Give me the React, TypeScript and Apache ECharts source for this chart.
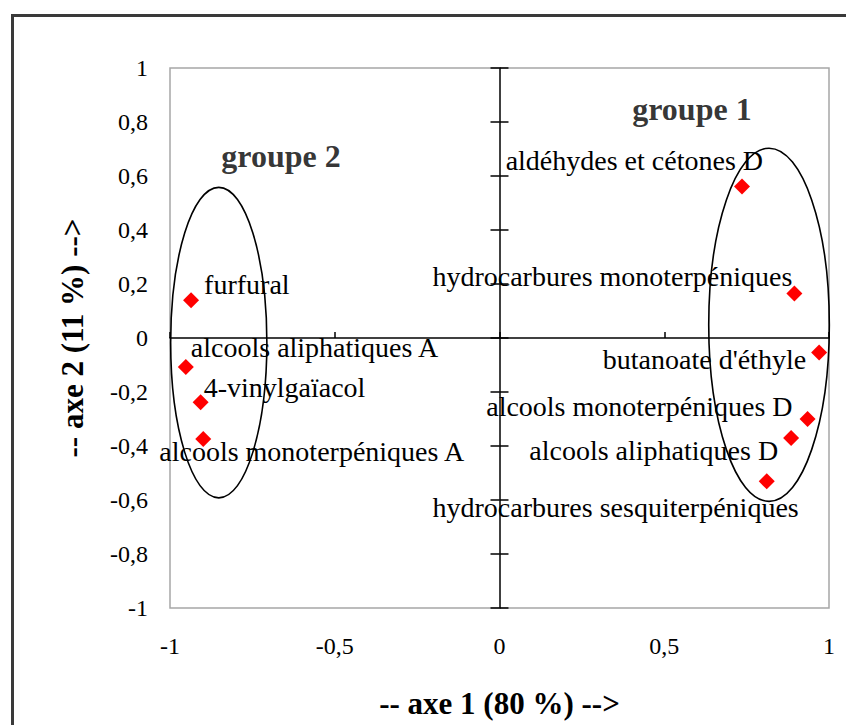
import React, { useEffect, useRef } from 'react';
import * as echarts from 'echarts';

// ---- data ----
const pointNames = [
  'furfural',
  'alcools aliphatiques A',
  '4-vinylgaïacol',
  'alcools monoterpéniques A',
  'aldéhydes et cétones D',
  'hydrocarbures monoterpéniques',
  "butanoate d'éthyle",
  'alcools monoterpéniques D',
  'alcools aliphatiques D',
  'hydrocarbures sesquiterpéniques',
];
const axis1Values = [-0.936, -0.952, -0.907, -0.899, 0.736, 0.895, 0.97, 0.935, 0.885, 0.811];
const axis2Values = [0.14, -0.107, -0.238, -0.374, 0.561, 0.165, -0.054, -0.3, -0.37, -0.531];

const groupNames = ['groupe 1', 'groupe 2'];
const groupLabelX = [0.584, -0.663];
const groupLabelY = [0.848, 0.673];
const ellipseCenterX = [0.818, -0.852];
const ellipseCenterY = [0.049, -0.017];
const ellipseRadiusX = [0.183, 0.146];
const ellipseRadiusY = [0.654, 0.575];

const xTickLabels = ['-1', '-0,5', '0', '0,5', '1'];
const yTickLabels = ['-1', '-0,8', '-0,6', '-0,4', '-0,2', '0', '0,2', '0,4', '0,6', '0,8', '1'];

const xTitle = '-- axe 1 (80 %) -->';
const yTitle = '-- axe 2 (11 %) -->';

// label placement (pixels, relative to the marker centre)
const labelLayout: { align: 'left' | 'right'; dx: number; dy: number }[] = [
  { align: 'left', dx: 13, dy: -16 },
  { align: 'left', dx: 5, dy: -19 },
  { align: 'left', dx: 3, dy: -15 },
  { align: 'left', dx: -44, dy: 13 },
  { align: 'right', dx: 21, dy: -26 },
  { align: 'right', dx: -2, dy: -17 },
  { align: 'right', dx: -13, dy: 7 },
  { align: 'right', dx: -15, dy: -13 },
  { align: 'right', dx: -13, dy: 13 },
  { align: 'right', dx: 32, dy: 26 },
];

const SYMBOL_SIZE = 16;
const SERIF = '"Liberation Serif", "Times New Roman", serif';

export default function App() {
  const ref = useRef<HTMLDivElement>(null);

  useEffect(() => {
    document.body.style.margin = '0';
    if (!ref.current) return;
    const chart = echarts.init(ref.current, undefined, { renderer: 'svg' });

    const half = SYMBOL_SIZE / 2;
    const pointData = pointNames.map((n, i) => ({
      name: n,
      value: [axis1Values[i], axis2Values[i]],
      label: {
        position: [half + labelLayout[i].dx, half + labelLayout[i].dy],
        align: labelLayout[i].align,
        verticalAlign: 'middle',
      },
    }));

    const groupData = groupNames.map((n, i) => ({
      name: n,
      value: [groupLabelX[i], groupLabelY[i]],
    }));

    const ellipseData = groupNames.map((_, i) => [
      ellipseCenterX[i],
      ellipseCenterY[i],
      ellipseRadiusX[i],
      ellipseRadiusY[i],
    ]);

    const baseX = { type: 'value', min: -1, max: 1, interval: 0.5, gridIndex: 0, splitLine: { show: false } };
    const baseY = { type: 'value', min: -1, max: 1, interval: 0.2, gridIndex: 0, splitLine: { show: false } };

    chart.setOption({
      animation: false,
      backgroundColor: '#ffffff',
      grid: {
        left: 170,
        right: 17,
        top: 68,
        bottom: 117,
        show: true,
        borderColor: '#a6a6a6',
        borderWidth: 1.5,
        backgroundColor: 'transparent',
      },
      graphic: [
        {
          type: 'rect',
          left: 10,
          top: 13,
          shape: { x: 0, y: 0, width: 900, height: 800 },
          style: { fill: 'none', stroke: '#3a3a3a', lineWidth: 3 },
          silent: true,
          z: -10,
        },
      ],
      xAxis: [
        {
          ...baseX,
          position: 'bottom',
          axisLine: { show: false, onZero: false },
          axisTick: { show: false },
          axisLabel: {
            margin: 26,
            fontFamily: SERIF,
            fontSize: 24,
            color: '#000',
            formatter: (_v: number, i: number) => xTickLabels[i] ?? '',
          },
          name: xTitle,
          nameLocation: 'middle',
          nameGap: 80,
          nameTextStyle: { fontFamily: SERIF, fontSize: 31, fontWeight: 'bold', color: '#000' },
        },
        {
          ...baseX,
          position: 'bottom',
          axisLine: { show: true, onZero: true, onZeroAxisIndex: 0, lineStyle: { color: '#000', width: 1.5 } },
          axisTick: { show: true, inside: true, length: 6, lineStyle: { color: '#000', width: 1.5 } },
          axisLabel: { show: false },
        },
      ],
      yAxis: [
        {
          ...baseY,
          position: 'left',
          axisLine: { show: false, onZero: false },
          axisTick: { show: false },
          axisLabel: {
            margin: 22,
            fontFamily: SERIF,
            fontSize: 24,
            color: '#000',
            formatter: (_v: number, i: number) => yTickLabels[i] ?? '',
          },
          name: yTitle,
          nameLocation: 'middle',
          nameGap: 82,
          nameTextStyle: { fontFamily: SERIF, fontSize: 31, fontWeight: 'bold', color: '#000' },
        },
        {
          ...baseY,
          position: 'left',
          axisLine: { show: true, onZero: true, onZeroAxisIndex: 0, lineStyle: { color: '#000', width: 1.5 } },
          axisTick: { show: true, inside: true, length: 9, lineStyle: { color: '#000', width: 1.5 } },
          axisLabel: { show: false },
        },
        {
          ...baseY,
          position: 'left',
          axisLine: { show: false, onZero: true, onZeroAxisIndex: 0 },
          axisTick: { show: true, inside: false, length: 9, lineStyle: { color: '#000', width: 1.5 } },
          axisLabel: { show: false },
        },
      ],
      series: [
        {
          type: 'custom',
          xAxisIndex: 0,
          yAxisIndex: 0,
          clip: false,
          silent: true,
          z: 3,
          renderItem: (_p: any, api: any) => {
            const c = api.coord([api.value(0), api.value(1)]);
            const s = api.size([api.value(2), api.value(3)]);
            return {
              type: 'ellipse',
              shape: { cx: c[0], cy: c[1], rx: s[0], ry: s[1] },
              style: { fill: 'none', stroke: '#000', lineWidth: 1.6 },
            };
          },
          data: ellipseData,
        },
        {
          type: 'scatter',
          xAxisIndex: 0,
          yAxisIndex: 0,
          symbol: 'diamond',
          symbolSize: SYMBOL_SIZE,
          itemStyle: { color: '#ff0000', opacity: 1 },
          z: 4,
          label: {
            show: true,
            formatter: '{b}',
            fontFamily: SERIF,
            fontSize: 28,
            color: '#000',
          },
          labelLayout: { hideOverlap: false },
          data: pointData,
        },
        {
          type: 'scatter',
          xAxisIndex: 0,
          yAxisIndex: 0,
          symbolSize: 0,
          silent: true,
          label: {
            show: true,
            position: 'inside',
            align: 'center',
            verticalAlign: 'middle',
            formatter: '{b}',
            fontFamily: SERIF,
            fontSize: 32,
            fontWeight: 'bold',
            color: '#000',
          },
          data: groupData,
        },
      ],
    });

    return () => chart.dispose();
  }, []);

  return <div ref={ref} style={{ width: 846, height: 725 }} />;
}
